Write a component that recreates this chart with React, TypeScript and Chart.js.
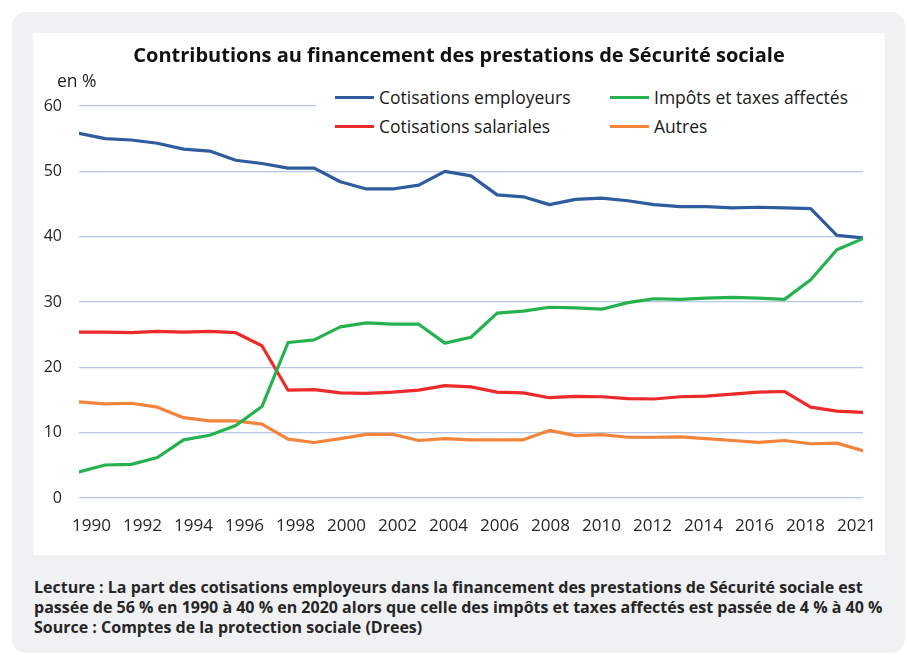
import React, { useEffect, useRef } from "react";
import { Chart, registerables } from "chart.js";

Chart.register(...registerables);

const years = [
  "1990", "1991", "1992", "1993", "1994", "1995", "1996", "1997", "1998", "1999",
  "2000", "2001", "2002", "2003", "2004", "2005", "2006", "2007", "2008", "2009",
  "2010", "2011", "2012", "2013", "2014", "2015", "2016", "2017", "2018", "2019", "2020",
];

const tickLabels = [
  "1990", "1992", "1994", "1996", "1998", "2000", "2002", "2004",
  "2006", "2008", "2010", "2012", "2014", "2016", "2018", "2021",
];

const cotisationsEmployeurs = [
  55.8, 55.0, 54.8, 54.3, 53.4, 53.1, 51.7, 51.2, 50.5, 50.5,
  48.4, 47.3, 47.3, 47.9, 50.0, 49.3, 46.4, 46.1, 44.9, 45.7,
  45.9, 45.5, 44.9, 44.6, 44.6, 44.4, 44.5, 44.4, 44.3, 40.2, 39.8,
];

const impotsTaxes = [
  4.0, 5.05, 5.15, 6.2, 8.9, 9.6, 11.1, 14.0, 23.8, 24.2,
  26.2, 26.8, 26.6, 26.6, 23.7, 24.6, 28.3, 28.6, 29.2, 29.1,
  28.9, 29.9, 30.5, 30.4, 30.6, 30.7, 30.6, 30.4, 33.4, 38.0, 39.7,
];

const cotisationsSalariales = [
  25.4, 25.4, 25.3, 25.5, 25.4, 25.5, 25.3, 23.3, 16.5, 16.6,
  16.1, 16.0, 16.2, 16.5, 17.2, 17.0, 16.2, 16.1, 15.35, 15.55,
  15.5, 15.2, 15.15, 15.5, 15.6, 15.9, 16.2, 16.3, 13.9, 13.3, 13.1,
];

const autres = [
  14.7, 14.4, 14.5, 13.9, 12.3, 11.8, 11.8, 11.3, 9.0, 8.5,
  9.1, 9.75, 9.75, 8.8, 9.1, 8.9, 8.9, 8.9, 10.35, 9.55,
  9.7, 9.3, 9.3, 9.35, 9.1, 8.8, 8.5, 8.8, 8.3, 8.4, 7.25,
];

const seriesNames = [
  "Cotisations employeurs",
  "Impôts et taxes affectés",
  "Cotisations salariales",
  "Autres",
];

const BLUE = "#2e5c9f";
const GREEN = "#25b14e";
const RED = "#ec2a2a";
const ORANGE = "#f5843b";
const GRID = "#b3c8e8";
const FONT = '"Open Sans", "Noto Sans", sans-serif';

export default function App() {
  const ref = useRef<HTMLCanvasElement | null>(null);

  useEffect(() => {
    if (!ref.current) return;
    const first = Number(years[0]);
    const last = Number(years[years.length - 1]);
    // tick labels spread evenly (category-like layout over the slightly wider label band)
    const bandStart = first - 0.497;
    const bandEnd = last + 0.727;
    const slot = (bandEnd - bandStart) / tickLabels.length;

    const mk = (label: string, data: number[], color: string, order: number) => ({
      label,
      data,
      borderColor: color,
      backgroundColor: color,
      borderWidth: 3.2,
      pointRadius: 0,
      tension: 0,
      fill: false,
      borderJoinStyle: "round" as const,
      borderCapStyle: "round" as const,
      order,
    });

    const chart = new Chart(ref.current, {
      type: "line",
      data: {
        labels: years,
        datasets: [
          mk(seriesNames[0], cotisationsEmployeurs, BLUE, 3),
          mk(seriesNames[1], impotsTaxes, GREEN, 0),
          mk(seriesNames[2], cotisationsSalariales, RED, 1),
          mk(seriesNames[3], autres, ORANGE, 2),
        ],
      },
      options: {
        animation: false,
        responsive: false,
        maintainAspectRatio: false,
        devicePixelRatio: 1,
        layout: { padding: { left: 0, right: 22, top: 73, bottom: 7 } },
        plugins: {
          legend: { display: false },
          tooltip: { enabled: false },
          title: { display: false },
        },
        scales: {
          x: {
            type: "linear",
            min: first,
            max: last,
            grid: { display: false, drawTicks: false },
            border: { display: false },
            afterBuildTicks: (scale: any) => {
              scale.ticks = tickLabels.map((_, k) => ({
                value: bandStart + slot * (k + 0.5),
              }));
            },
            afterFit: (scale: any) => {
              scale.height = 50;
              scale.paddingLeft = 0;
              scale.paddingRight = 0;
            },
            ticks: {
              autoSkip: false,
              maxRotation: 0,
              minRotation: 0,
              padding: 18,
              color: "#262626",
              font: { family: FONT, size: 17 },
              callback: (_v: any, i: number) => tickLabels[i],
            },
          },
          y: {
            min: 0,
            max: 60,
            grid: { color: GRID, lineWidth: 1.3, drawTicks: false },
            border: { display: false },
            afterFit: (scale: any) => {
              scale.width = 46;
              scale.paddingTop = 0;
              scale.paddingBottom = 0;
            },
            ticks: {
              stepSize: 10,
              padding: 17,
              color: "#262626",
              font: { family: FONT, size: 16 },
            },
          },
        },
      },
    });
    return () => chart.destroy();
  }, []);

  const legendItems = [
    { name: seriesNames[0], color: BLUE, left: 19, top: 13 },
    { name: seriesNames[1], color: GREEN, left: 294, top: 13 },
    { name: seriesNames[2], color: RED, left: 19, top: 42 },
    { name: seriesNames[3], color: ORANGE, left: 294, top: 42 },
  ];

  return (
    <div
      style={{
        position: "absolute",
        left: 0,
        top: 0,
        width: 907,
        height: 655,
        background: "#ffffff",
        fontFamily: FONT,
        overflow: "hidden",
      }}
    >
      <div
        style={{
          position: "absolute",
          left: 12,
          top: 12,
          width: 893,
          height: 641,
          background: "#f0f1f3",
          borderRadius: 14,
        }}
      />
      <div
        style={{
          position: "absolute",
          left: 33,
          top: 33,
          width: 852,
          height: 522,
          background: "#ffffff",
        }}
      >
        <canvas
          ref={ref}
          width={852}
          height={522}
          style={{ position: "absolute", left: 0, top: 0, width: 852, height: 522 }}
        />
        <div
          style={{
            position: "absolute",
            left: 0,
            top: 10,
            width: 852,
            textAlign: "center",
            fontWeight: 700,
            fontSize: 20,
            lineHeight: "24px",
            color: "#111",
          }}
        >
          Contributions au financement des prestations de Sécurité sociale
        </div>
        <div
          style={{
            position: "absolute",
            left: 24,
            top: 37,
            fontSize: 17.5,
            lineHeight: "20px",
            color: "#222",
          }}
        >
          en %
        </div>
        <div
          style={{
            position: "absolute",
            left: 283,
            top: 51,
            width: 560,
            height: 56,
            background: "#ffffff",
          }}
        >
          {legendItems.map((it) => (
            <div key={it.name}>
              <div
                style={{
                  position: "absolute",
                  left: it.left,
                  top: it.top - 1.5,
                  width: 39,
                  height: 3,
                  background: it.color,
                }}
              />
              <div
                style={{
                  position: "absolute",
                  left: it.left + 44,
                  top: it.top - 11,
                  fontSize: 17.5,
                  lineHeight: "22px",
                  color: "#1a1a1a",
                  whiteSpace: "nowrap",
                }}
              >
                {it.name}
              </div>
            </div>
          ))}
        </div>
      </div>
      <div
        style={{
          position: "absolute",
          left: 34,
          top: 577,
          fontWeight: 700,
          fontSize: 16,
          lineHeight: "20px",
          color: "#262626",
          fontStretch: "89%",
          whiteSpace: "nowrap",
        }}
      >
        <div>
          Lecture : La part des cotisations employeurs dans la financement des prestations de Sécurité sociale est
        </div>
        <div>
          passée de 56 % en 1990 à 40 % en 2020 alors que celle des impôts et taxes affectés est passée de 4 % à 40 %
        </div>
        <div>Source : Comptes de la protection sociale (Drees)</div>
      </div>
    </div>
  );
}
